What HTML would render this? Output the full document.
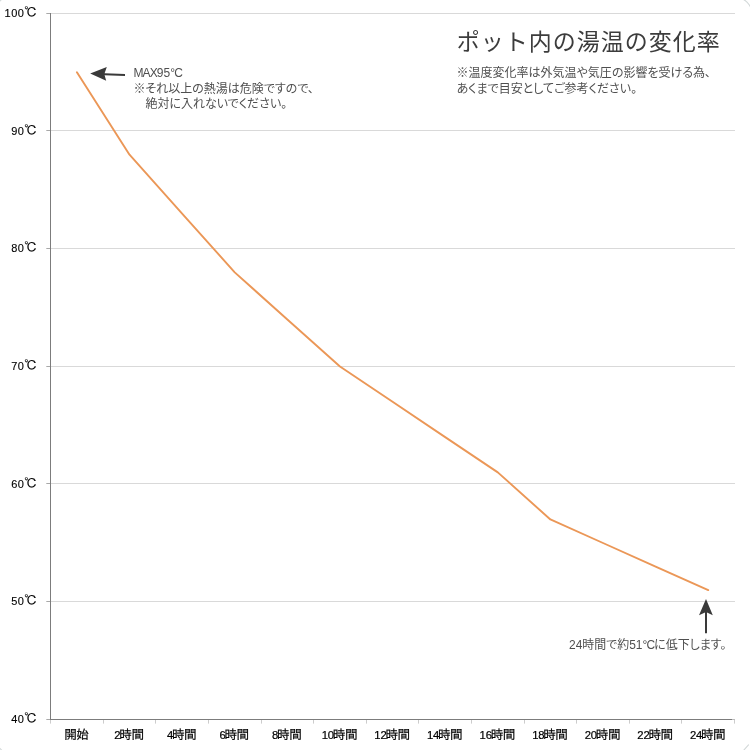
<!DOCTYPE html>
<html lang="ja">
<head>
<meta charset="utf-8">
<title>ポット内の湯温の変化率</title>
<style>
html,body{margin:0;padding:0;background:#fff;}
body{width:750px;height:750px;overflow:hidden;position:relative;font-family:"Liberation Sans","Noto Sans CJK JP",sans-serif;}
svg{position:absolute;left:0;top:0;display:block;}
.ax{font-family:"Liberation Sans","IPAGothic","Noto Sans CJK JP",sans-serif;font-size:12.7px;fill:#000;stroke:#000;stroke-width:0.2px;letter-spacing:-0.6px;}
.ax .d{font-size:11.3px;letter-spacing:-0.2px;}
.ay{font-family:"Liberation Sans","IPAGothic","Noto Sans CJK JP",sans-serif;font-size:13px;fill:#000;stroke:#000;stroke-width:0.12px;letter-spacing:-0.5px;}
.ay .d{font-size:11px;letter-spacing:0.45px;}
.t{position:absolute;white-space:nowrap;color:#404040;font-family:"Liberation Sans","Noto Sans CJK JP",sans-serif;}
.l{letter-spacing:-0.85px;}
#title{left:456.8px;top:24.3px;font-size:23px;letter-spacing:1px;line-height:36px;font-weight:400;color:#3c3c3c;}
#sub{left:456.6px;top:66.3px;font-size:12px;line-height:15.5px;font-weight:400;color:#4f4f4f;font-feature-settings:"palt";}
#n1{left:133.4px;top:66.4px;font-size:12px;line-height:15.5px;font-weight:400;color:#4f4f4f;font-feature-settings:"palt";}
#n2{left:569px;top:637px;font-size:11.96px;line-height:16px;font-weight:400;color:#4f4f4f;font-feature-settings:"palt";}
</style>
</head>
<body>
<svg width="750" height="750" viewBox="0 0 750 750">
<rect x="51" y="13" width="684" height="1" fill="#d9d9d9"/>
<rect x="51" y="130" width="684" height="1" fill="#d9d9d9"/>
<rect x="51" y="248" width="684" height="1" fill="#d9d9d9"/>
<rect x="51" y="366" width="684" height="1" fill="#d9d9d9"/>
<rect x="51" y="483" width="684" height="1" fill="#d9d9d9"/>
<rect x="51" y="601" width="684" height="1" fill="#d9d9d9"/>
<rect x="46.3" y="13" width="4.7" height="1" fill="#a8a8a8"/>
<rect x="46.3" y="130" width="4.7" height="1" fill="#a8a8a8"/>
<rect x="46.3" y="248" width="4.7" height="1" fill="#a8a8a8"/>
<rect x="46.3" y="366" width="4.7" height="1" fill="#a8a8a8"/>
<rect x="46.3" y="483" width="4.7" height="1" fill="#a8a8a8"/>
<rect x="46.3" y="601" width="4.7" height="1" fill="#a8a8a8"/>
<rect x="46.3" y="719" width="4.7" height="1" fill="#a8a8a8"/>
<rect x="50" y="720" width="1" height="3.6" fill="#cccccc"/>
<rect x="103" y="720" width="1" height="3.6" fill="#cccccc"/>
<rect x="155" y="720" width="1" height="3.6" fill="#cccccc"/>
<rect x="208" y="720" width="1" height="3.6" fill="#cccccc"/>
<rect x="261" y="720" width="1" height="3.6" fill="#cccccc"/>
<rect x="313" y="720" width="1" height="3.6" fill="#cccccc"/>
<rect x="366" y="720" width="1" height="3.6" fill="#cccccc"/>
<rect x="418" y="720" width="1" height="3.6" fill="#cccccc"/>
<rect x="471" y="720" width="1" height="3.6" fill="#cccccc"/>
<rect x="524" y="720" width="1" height="3.6" fill="#cccccc"/>
<rect x="576" y="720" width="1" height="3.6" fill="#cccccc"/>
<rect x="629" y="720" width="1" height="3.6" fill="#cccccc"/>
<rect x="681" y="720" width="1" height="3.6" fill="#cccccc"/>
<rect x="734" y="720" width="1" height="3.6" fill="#cccccc"/>
<rect x="50" y="13" width="1" height="707" fill="#7c7c7c"/>
<rect x="50" y="719" width="682" height="1" fill="#7c7c7c"/>
<rect x="732" y="719" width="3" height="1" fill="#bcbcbc"/>
<polyline points="76.91,72.33 129.51,154.70 182.12,213.53 234.73,272.37 287.35,319.43 339.96,366.50 392.56,401.80 445.18,437.10 497.79,472.40 550.39,519.47 603.00,543.00 655.62,566.53 708.23,590.07" fill="none" stroke="#eb9757" stroke-width="1.9" stroke-linejoin="round" stroke-linecap="round"/>
<text class="ay" x="36.8" y="17.1" text-anchor="end"><tspan class="d">100</tspan>℃</text>
<text class="ay" x="36.8" y="134.8" text-anchor="end"><tspan class="d">90</tspan>℃</text>
<text class="ay" x="36.8" y="252.4" text-anchor="end"><tspan class="d">80</tspan>℃</text>
<text class="ay" x="36.8" y="370.1" text-anchor="end"><tspan class="d">70</tspan>℃</text>
<text class="ay" x="36.8" y="487.8" text-anchor="end"><tspan class="d">60</tspan>℃</text>
<text class="ay" x="36.8" y="605.4" text-anchor="end"><tspan class="d">50</tspan>℃</text>
<text class="ay" x="36.8" y="723.1" text-anchor="end"><tspan class="d">40</tspan>℃</text>
<text class="ax" x="76.3" y="738.9" text-anchor="middle">開始</text>
<text class="ax" x="128.9" y="738.9" text-anchor="middle"><tspan class="d">2</tspan><tspan dx="-1.1">時間</tspan></text>
<text class="ax" x="181.5" y="738.9" text-anchor="middle"><tspan class="d">4</tspan><tspan dx="-1.1">時間</tspan></text>
<text class="ax" x="234.1" y="738.9" text-anchor="middle"><tspan class="d">6</tspan><tspan dx="-1.1">時間</tspan></text>
<text class="ax" x="286.7" y="738.9" text-anchor="middle"><tspan class="d">8</tspan><tspan dx="-1.1">時間</tspan></text>
<text class="ax" x="339.4" y="738.9" text-anchor="middle"><tspan class="d">10</tspan><tspan dx="-1.1">時間</tspan></text>
<text class="ax" x="392.0" y="738.9" text-anchor="middle"><tspan class="d">12</tspan><tspan dx="-1.1">時間</tspan></text>
<text class="ax" x="444.6" y="738.9" text-anchor="middle"><tspan class="d">14</tspan><tspan dx="-1.1">時間</tspan></text>
<text class="ax" x="497.2" y="738.9" text-anchor="middle"><tspan class="d">16</tspan><tspan dx="-1.1">時間</tspan></text>
<text class="ax" x="549.8" y="738.9" text-anchor="middle"><tspan class="d">18</tspan><tspan dx="-1.1">時間</tspan></text>
<text class="ax" x="602.4" y="738.9" text-anchor="middle"><tspan class="d">20</tspan><tspan dx="-1.1">時間</tspan></text>
<text class="ax" x="655.0" y="738.9" text-anchor="middle"><tspan class="d">22</tspan><tspan dx="-1.1">時間</tspan></text>
<text class="ax" x="707.6" y="738.9" text-anchor="middle"><tspan class="d">24</tspan><tspan dx="-1.1">時間</tspan></text>
<g fill="#3a3a3a" stroke="none"><path d="M90.2 73.5 L106.8 67 L104.6 73.3 L125 74 L125 76 L104.6 75.3 L106.2 80.8 Z"/><path d="M706 599 L712.8 615.3 L707 612.6 L707 633.2 L705 633.2 L705 612.6 L699 615.3 Z"/></g>
<g fill="none" stroke="#d3d9d9" stroke-width="1.1" stroke-linecap="round"><path d="M743.5 -0.5 Q747.5 1.5 750.5 7"/><path d="M743.5 750.5 L748.5 744.8"/><path d="M-0.5 748 L2 750.5"/><path d="M-0.5 1.5 L1.5 -0.5"/></g>
</svg>
<div class="t" id="title">ポット内の湯温の変化率</div>
<div class="t" id="sub">※温度変化率は外気温や気圧の影響を受ける為、<br>あくまで目安としてご参考ください。</div>
<div class="t" id="n1"><span class="l">MAX</span>95<span class="l">°C</span><br>※それ以上の熱湯は危険ですので、<br>&emsp;絶対に入れないでください。</div>
<div class="t" id="n2">24時間で約51<span class="l">°C</span>に低下します。</div>
</body>
</html>
